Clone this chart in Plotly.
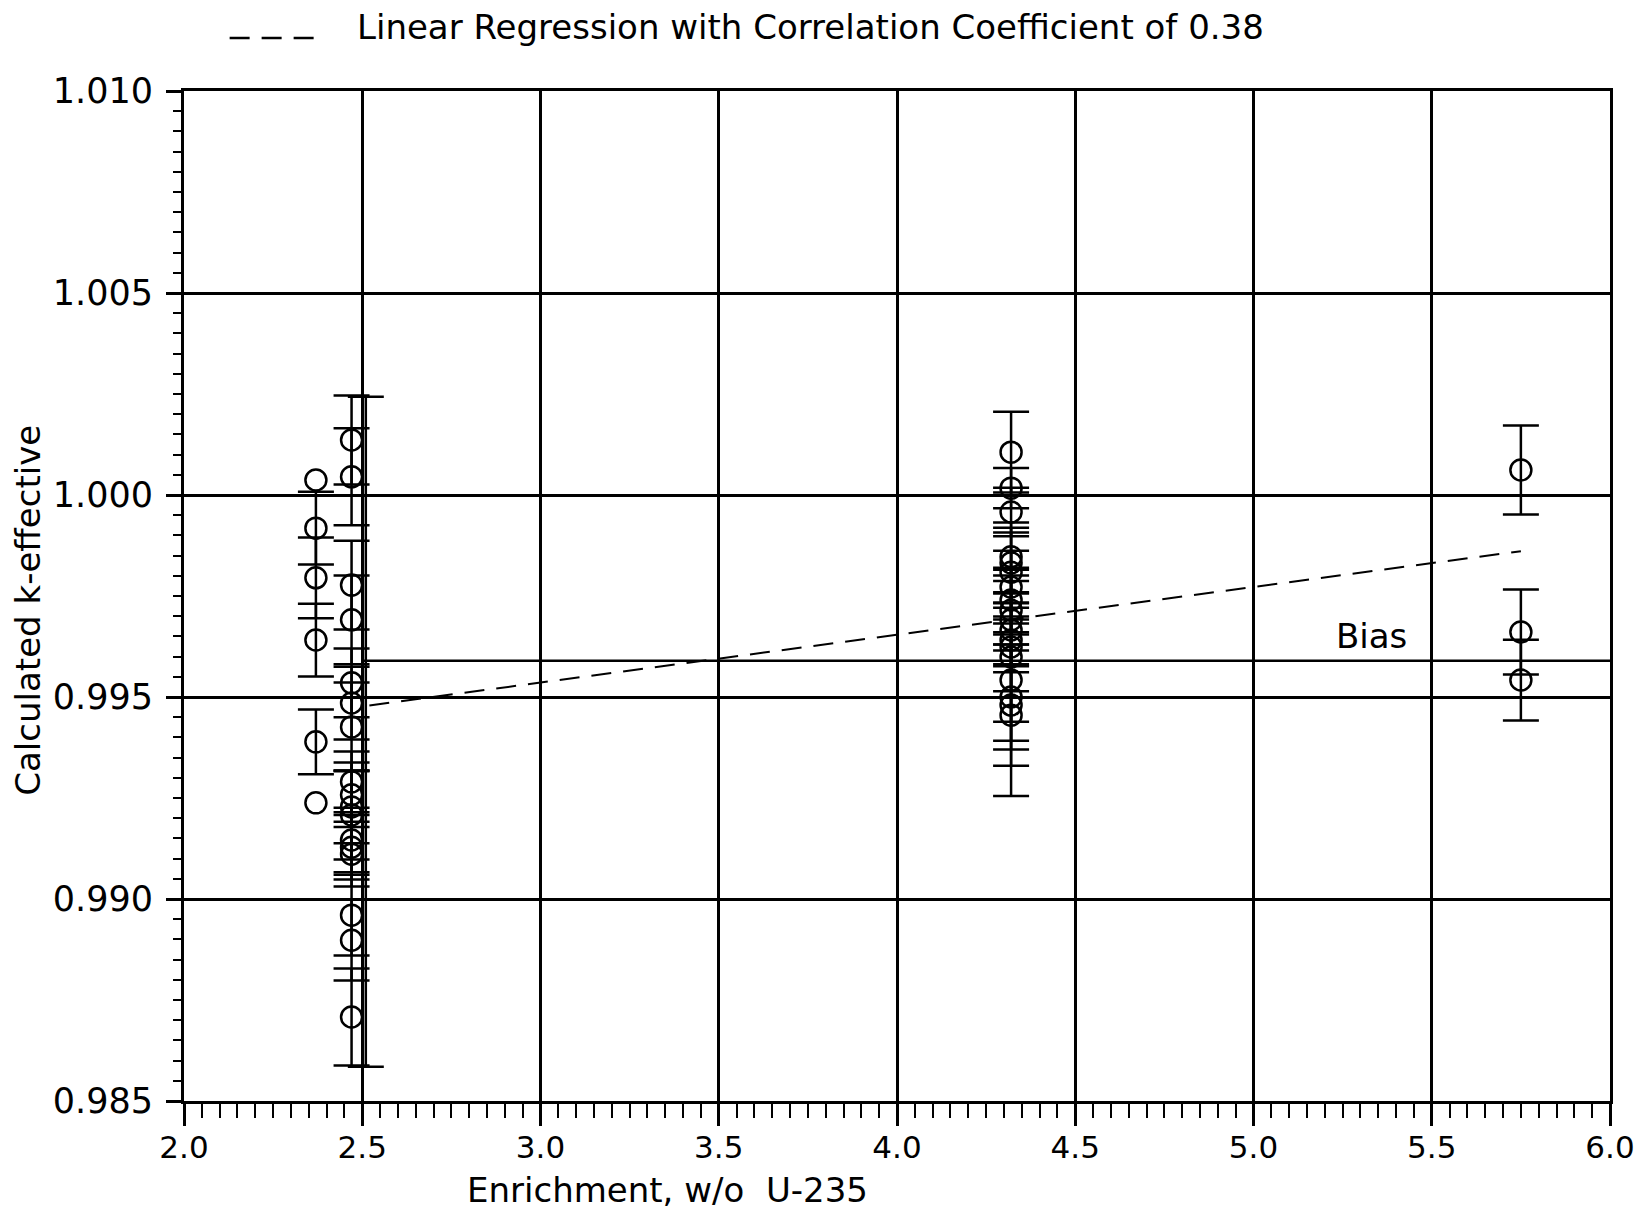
import plotly.graph_objects as go

# ---------------- data ----------------
# enrichment (w/o U-235) groups
x_a = 2.37
k_a = [1.00037, 0.99918, 0.99795, 0.99641, 0.99389, 0.99238]
s_a = [None, 0.0009, 0.0010, 0.0009, 0.0008, None]

x_b = 2.47
k_b = [1.00136, 1.00045, 0.99777, 0.99691, 0.99535, 0.99485, 0.99426, 0.99290,
       0.99258, 0.99228, 0.99208, 0.99146, 0.99128, 0.99111, 0.98960, 0.98898, 0.98708]
s_b = [0.0011, 0.0012, 0.0011, 0.0011, 0.00085, 0.0009, 0.0011, 0.00075,
       0.0008, 0.0009, 0.0011, 0.0008, 0.0008, 0.0008, 0.0010, 0.0010, 0.0012]

# long uncertainty bar drawn beside the 2.47 group (no symbol)
x_long = [2.51]
k_long = [0.99414]
s_long = [0.00829]

x_c = 4.32
k_c = [1.00106, 1.00017, 0.99958, 0.99847, 0.99832, 0.99809, 0.99772, 0.99740, 0.99715,
       0.99691, 0.99666, 0.99641, 0.99624, 0.99599, 0.99542, 0.99500, 0.99480, 0.99455]
s_c = [0.0010, 0.0005, 0.0006, 0.0006, 0.0010, 0.0011, 0.0009, 0.0008, 0.0010,
       0.0011, 0.0009, 0.0008, 0.0011, 0.0016, 0.0015, 0.0013, 0.0015, 0.0020]

x_d = 5.75
k_d = [1.00062, 0.99661, 0.99542]
s_d = [0.0011, 0.00105, 0.0010]

# regression line end points and bias level
reg_x = [2.52, 5.75]
reg_k = [0.99479, 0.99861]
bias_x = [2.50, 6.00]
bias_k = [0.99590, 0.99590]
bias_label = ("Bias", 5.33, 0.99652)

x_ticks = [2.0, 2.5, 3.0, 3.5, 4.0, 4.5, 5.0, 5.5, 6.0]
y_ticks = [0.985, 0.990, 0.995, 1.000, 1.005, 1.010]

legend_text = "Linear Regression with Correlation Coefficient of 0.38"
x_title = "Enrichment, w/o  U-235"
y_title = "Calculated k-effective"

# ---------------- figure ----------------
FONT = "DejaVu Sans"
BLACK = "black"

groups = [(x_a, k_a, s_a), (x_b, k_b, s_b), (x_c, k_c, s_c), (x_d, k_d, s_d)]

fig = go.Figure()

marker = dict(symbol="circle-open", size=21, color=BLACK, line=dict(width=2.5, color=BLACK))

for gx, ks, ss in groups:
    with_x = [gx for k, s in zip(ks, ss) if s is not None]
    with_k = [k for k, s in zip(ks, ss) if s is not None]
    with_s = [s for k, s in zip(ks, ss) if s is not None]
    no_x = [gx for k, s in zip(ks, ss) if s is None]
    no_k = [k for k, s in zip(ks, ss) if s is None]
    if with_k:
        fig.add_trace(go.Scatter(
            x=with_x, y=with_k, mode="markers", marker=marker,
            error_y=dict(type="data", array=with_s, visible=True, color=BLACK,
                         thickness=2.5, width=18),
            showlegend=False, hoverinfo="x+y"))
    if no_k:
        fig.add_trace(go.Scatter(x=no_x, y=no_k, mode="markers", marker=marker,
                                 showlegend=False, hoverinfo="x+y"))

fig.add_trace(go.Scatter(
    x=x_long, y=k_long, mode="markers",
    marker=dict(size=1, color="rgba(0,0,0,0)"),
    error_y=dict(type="data", array=s_long, visible=True, color=BLACK,
                 thickness=2.5, width=18),
    showlegend=False, hoverinfo="skip"))

fig.add_trace(go.Scatter(x=bias_x, y=bias_k, mode="lines",
                         line=dict(color=BLACK, width=2.5),
                         showlegend=False, hoverinfo="skip"))

fig.add_trace(go.Scatter(x=reg_x, y=reg_k, mode="lines",
                         line=dict(color=BLACK, width=2, dash="20px,12px"),
                         showlegend=False, hoverinfo="skip"))

fig.add_annotation(x=bias_label[1], y=bias_label[2], text=bias_label[0],
                   showarrow=False, font=dict(family=FONT, size=34, color=BLACK),
                   xanchor="center", yanchor="middle")

# legend line + text at top
fig.add_shape(type="line", xref="paper", yref="paper", x0=0.032, x1=0.093,
              y0=1.0525, y1=1.0525, line=dict(color=BLACK, width=2.5, dash="20px,12px"))
fig.add_annotation(xref="paper", yref="paper", x=0.12, y=1.063, text=legend_text,
                   showarrow=False, xanchor="left", yanchor="middle",
                   font=dict(family=FONT, size=34, color=BLACK))

fig.add_annotation(xref="paper", yref="paper", x=0.339, y=-0.088, text=x_title,
                   showarrow=False, xanchor="center", yanchor="middle",
                   font=dict(family=FONT, size=34, color=BLACK))
fig.add_annotation(xref="paper", yref="paper", x=-0.109, y=0.486, text=y_title,
                   showarrow=False, xanchor="center", yanchor="middle", textangle=-90,
                   font=dict(family=FONT, size=34, color=BLACK))

fig.update_xaxes(
    range=[2.0, 6.0], tickvals=x_ticks, ticktext=[f"{v:.1f}" for v in x_ticks],
    showgrid=True, gridcolor=BLACK, gridwidth=2.5, zeroline=False,
    showline=True, linecolor=BLACK, linewidth=3, mirror=True,
    ticks="outside", ticklen=22, tickwidth=2.5, tickcolor=BLACK,
    tickfont=dict(family=FONT, size=31, color=BLACK), ticklabelstandoff=-5,
    ticklabeloverflow="allow", automargin=False,
    minor=dict(dtick=0.05, tick0=2.0, ticks="outside", ticklen=14, tickwidth=2,
               tickcolor=BLACK, showgrid=False),
)
fig.update_yaxes(
    range=[0.985, 1.010], tickvals=y_ticks, ticktext=[f"{v:.3f}" for v in y_ticks],
    showgrid=True, gridcolor=BLACK, gridwidth=2.5, zeroline=False,
    showline=True, linecolor=BLACK, linewidth=3, mirror=True,
    ticks="outside", ticklen=15, tickwidth=2.5, tickcolor=BLACK,
    tickfont=dict(family=FONT, size=35, color=BLACK), ticklabelstandoff=6,
    ticklabeloverflow="allow", automargin=False,
    minor=dict(dtick=0.0005, tick0=0.985, ticks="outside", ticklen=8, tickwidth=2,
               tickcolor=BLACK, showgrid=False),
)

fig.update_layout(
    width=1634, height=1209,
    margin=dict(l=184, r=24, t=91, b=108, autoexpand=False),
    paper_bgcolor="white", plot_bgcolor="white",
    showlegend=False,
)

fig.write_html("out.html", config={"displayModeBar": False},
               post_script="document.body.style.margin='0';")
